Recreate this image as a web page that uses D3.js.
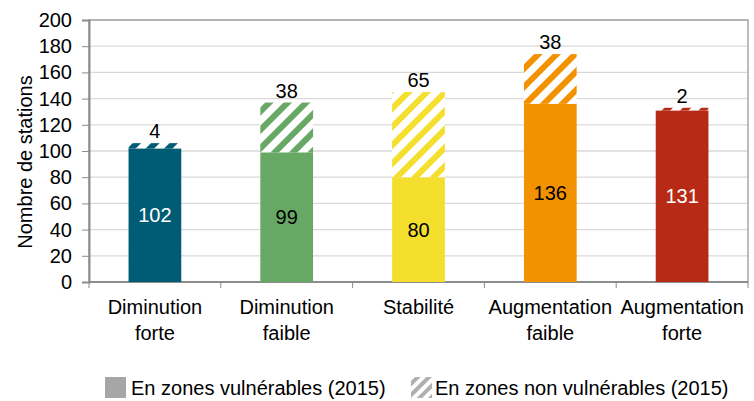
<!DOCTYPE html>
<html><head><meta charset="utf-8">
<script src="https://cdn.jsdelivr.net/npm/d3@7"></script>
<style>body{margin:0;background:#fff}svg{font-family:"Liberation Sans",Arial,sans-serif}</style>
</head><body><svg id="c" width="754" height="401"></svg>
<script>
const categories = [["Diminution","forte"],["Diminution","faible"],["Stabilité",""],["Augmentation","faible"],["Augmentation","forte"]];
const vulnerable = [102, 99, 80, 136, 131];
const nonVulnerable = [4, 38, 65, 38, 2];
const colors = ["#005b74", "#68a865", "#f5df2e", "#f39200", "#b72a16"];
const innerLabelColors = ["#ffffff", "#000000", "#000000", "#000000", "#ffffff"];
const yTicks = [0,20,40,60,80,100,120,140,160,180,200];
const legendLabels = ["En zones vulnérables (2015)", "En zones non vulnérables (2015)"];

const FS = 20;
const svg = d3.select("#c");
const L = 89, R = 748, T = 20, B = 282;
const x = d3.scaleBand().domain(d3.range(categories.length)).range([L, R]).paddingInner(0.6).paddingOuter(0.3);
const xb = d3.scaleBand().domain(d3.range(categories.length)).range([L, R]);
const y = d3.scaleLinear().domain([0, 200]).range([B, T]);

const defs = svg.append("defs");
colors.forEach((c, i) => {
  const p = defs.append("pattern").attr("id", "h" + i).attr("patternUnits", "userSpaceOnUse")
    .attr("width", 13).attr("height", 13).attr("patternTransform", "rotate(45)");
  p.append("rect").attr("width", 13).attr("height", 13).attr("fill", "#fff");
  p.append("rect").attr("x", 0).attr("width", 6).attr("height", 13).attr("fill", c);
});
{
  const p = defs.append("pattern").attr("id", "hg").attr("patternUnits", "userSpaceOnUse")
    .attr("width", 8).attr("height", 8).attr("patternTransform", "rotate(45)");
  p.append("rect").attr("width", 8).attr("height", 8).attr("fill", "#fff");
  p.append("rect").attr("width", 4).attr("height", 8).attr("fill", "#b0b0b0");
}

// gridlines
svg.append("g").selectAll("line").data(yTicks).join("line")
  .attr("x1", L).attr("x2", R).attr("y1", d => y(d)).attr("y2", d => y(d))
  .attr("stroke", "#d9d9d9").attr("stroke-width", 1.3);

// plot border
svg.append("rect").attr("x", L).attr("y", T).attr("width", R - L).attr("height", B - T)
  .attr("fill", "none").attr("stroke", "#a6a6a6").attr("stroke-width", 1.5);

// y axis
const ya = svg.append("g").attr("transform", `translate(${L},0)`)
  .call(d3.axisLeft(y).tickValues(yTicks).tickSize(7).tickPadding(10));
ya.select(".domain").attr("stroke", "#8c8c8c").attr("stroke-width", 2);
ya.selectAll(".tick line").attr("stroke", "#8c8c8c");
ya.selectAll("text").attr("font-size", FS).attr("fill", "#000").attr("font-family", "Liberation Sans, Arial, sans-serif");

// x axis
const xa = svg.append("g").attr("transform", `translate(0,${B})`);
xa.append("line").attr("x1", L).attr("x2", R).attr("stroke", "#8c8c8c").attr("stroke-width", 2);
xa.selectAll(".tk").data(d3.range(categories.length + 1)).join("line")
  .attr("x1", i => L + i * xb.step()).attr("x2", i => L + i * xb.step())
  .attr("y1", 0).attr("y2", 6).attr("stroke", "#8c8c8c");
const lab = xa.selectAll(".cl").data(categories).join("text")
  .attr("text-anchor", "middle").attr("font-size", FS).attr("fill", "#000")
  .attr("transform", (d, i) => `translate(${xb(i) + xb.bandwidth() / 2},0)`);
lab.append("tspan").attr("x", 0).attr("y", 32).text(d => d[0]);
lab.append("tspan").attr("x", 0).attr("y", 58).text(d => d[1]);

// bars
const g = svg.append("g");
g.selectAll(".v").data(vulnerable).join("rect")
  .attr("x", (d, i) => x(i)).attr("width", x.bandwidth())
  .attr("y", d => y(d)).attr("height", d => y(0) - y(d))
  .attr("fill", (d, i) => colors[i]);
g.selectAll(".n").data(nonVulnerable).join("rect")
  .attr("x", (d, i) => x(i)).attr("width", x.bandwidth())
  .attr("y", (d, i) => y(vulnerable[i] + d)).attr("height", (d, i) => y(vulnerable[i]) - y(vulnerable[i] + d))
  .attr("fill", (d, i) => `url(#h${i})`);

// labels
g.selectAll(".il").data(vulnerable).join("text")
  .attr("x", (d, i) => x(i) + x.bandwidth() / 2).attr("y", d => y(d / 2) + 7)
  .attr("text-anchor", "middle").attr("font-size", FS)
  .attr("fill", (d, i) => innerLabelColors[i]).text(d => d);
g.selectAll(".tl").data(nonVulnerable).join("text")
  .attr("x", (d, i) => x(i) + x.bandwidth() / 2).attr("y", (d, i) => y(vulnerable[i] + d) - 5)
  .attr("text-anchor", "middle").attr("font-size", FS).attr("fill", "#000").text(d => d);

// y title
svg.append("text").attr("transform", `translate(32,162) rotate(-90)`)
  .attr("text-anchor", "middle").attr("font-size", FS).attr("fill", "#000").text("Nombre de stations");

// legend
const lg = svg.append("g");
lg.append("rect").attr("x", 105).attr("y", 377).attr("width", 21).attr("height", 21).attr("fill", "#a6a6a6");
lg.append("text").attr("x", 131).attr("y", 395).attr("font-size", FS).text(legendLabels[0]);
lg.append("rect").attr("x", 411).attr("y", 377).attr("width", 21).attr("height", 21).attr("fill", "url(#hg)");
lg.append("text").attr("x", 435).attr("y", 395).attr("font-size", FS).text(legendLabels[1]);
</script></body></html>
